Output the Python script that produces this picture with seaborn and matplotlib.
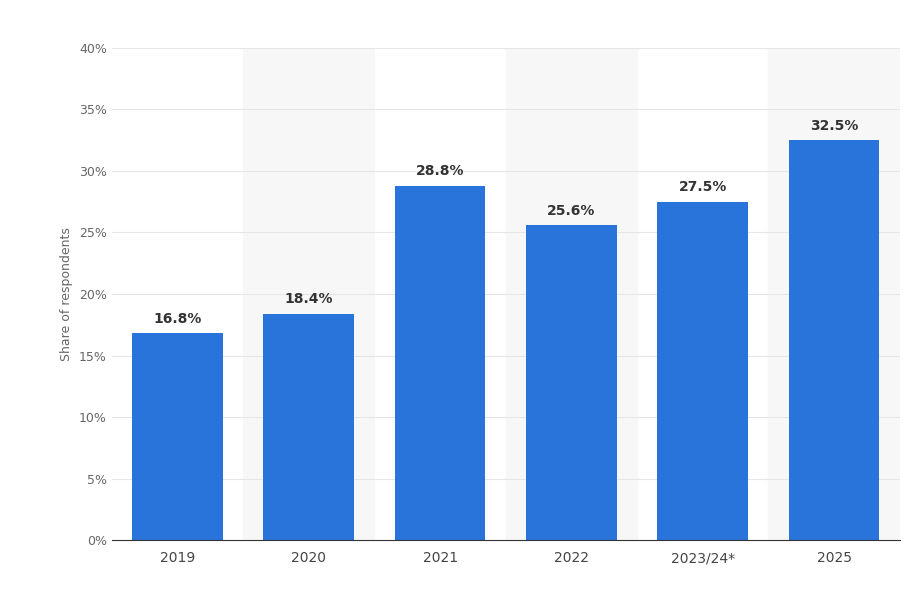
import matplotlib
matplotlib.use("Agg")
import matplotlib.pyplot as plt
import seaborn as sns
import pandas as pd

years = ["2019", "2020", "2021", "2022", "2023/24*", "2025"]
shares = [16.8, 18.4, 28.8, 25.6, 27.5, 32.5]
df = pd.DataFrame({"year": years, "share": shares})

fig = plt.figure(figsize=(9.08, 5.91), dpi=100)
ax = fig.add_axes([0.123, 0.086, 0.868, 0.833])

# light shaded bands behind every other category
for i in range(len(years)):
    if i % 2 == 1:
        ax.axvspan(i - 0.5, i + 0.5, color="#f7f7f7", zorder=0)

for y in range(5, 45, 5):
    ax.axhline(y, color="#e6e6e6", lw=0.8, zorder=0.5)

sns.barplot(data=df, x="year", y="share", color="#2874db", saturation=1,
            width=0.69, ax=ax, zorder=2)

for i, v in enumerate(shares):
    ax.text(i, v + 0.6, f"{v}%", ha="center", va="bottom", fontsize=10,
            fontweight="bold", color="#333333")

ax.set_xlim(-0.5, len(years) - 0.5)
ax.set_ylim(0, 40)
ax.set_yticks(range(0, 45, 5))
ax.set_yticklabels([f"{t}%" for t in range(0, 45, 5)])
ax.set_xlabel("")
ax.set_ylabel("Share of respondents", color="#666666", fontsize=9)
ax.tick_params(axis="y", length=0, labelsize=9, colors="#666666")
ax.tick_params(axis="x", length=0, labelsize=10, colors="#444444", pad=8)
for s in ["top", "right", "left"]:
    ax.spines[s].set_visible(False)
ax.spines["bottom"].set_color("#333333")

fig.savefig("out.png", dpi=100)
